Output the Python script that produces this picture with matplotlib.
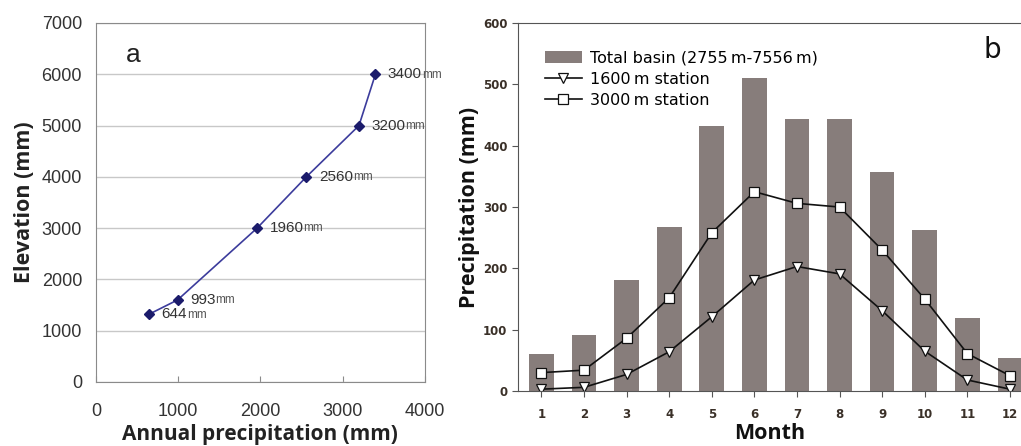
import numpy as np
import matplotlib.pyplot as plt
from matplotlib.ticker import MultipleLocator

# panel a: elevation vs annual precipitation
precip_a = [644, 993, 1960, 2560, 3200, 3400]
elev_a = [1320, 1600, 3000, 4000, 5000, 6000]
labels_a = ['644', '993', '1960', '2560', '3200', '3400']

# panel b: monthly precipitation
months = list(range(1, 13))
basin = [60, 92, 181, 267, 432, 510, 443, 443, 357, 262, 119, 54]
st3000 = [30, 34, 86, 152, 258, 325, 306, 300, 230, 150, 61, 25]
st1600 = [3, 6, 27, 64, 121, 181, 203, 191, 131, 65, 18, 3]

fig = plt.figure(figsize=(10.21, 4.46), dpi=100)

# ---- panel a ----
ax1 = fig.add_axes([0.094, 0.1435, 0.322, 0.805])
ax1.set_xlim(0, 4000)
ax1.set_ylim(0, 7000)
ax1.yaxis.set_major_locator(MultipleLocator(1000))
ax1.xaxis.set_major_locator(MultipleLocator(1000))
ax1.grid(axis='y', color='#c8c8c8', lw=1)
ax1.set_axisbelow(True)
for s in ax1.spines.values():
    s.set_color('#8a8a8a')
ax1.tick_params(axis='x', direction='in', length=4, color='#8a8a8a', pad=15)
ax1.tick_params(axis='y', length=0, pad=10)
for lab in ax1.get_xticklabels() + ax1.get_yticklabels():
    lab.set_fontfamily('Liberation Sans')
    lab.set_fontsize(13)
    lab.set_color('#333333')

ax1.plot(precip_a, elev_a, color='#3c3c9c', lw=1.2, marker='D', ms=5,
         mfc='#1b1b6b', mec='#1b1b6b')
for x, y, lab in zip(precip_a, elev_a, labels_a):
    t = ax1.annotate(lab, (x, y), xytext=(9, 0), textcoords='offset points',
                     va='center', ha='left', fontsize=11,
                     family='Liberation Sans', color='#333333')
    ax1.annotate('mm', xy=(1, 0.05), xycoords=t, va='bottom', ha='left',
                 fontsize=8.5, family='Liberation Sans', color='#555555')

ax1.text(0.09, 0.91, 'a', transform=ax1.transAxes, fontsize=19,
         family='Liberation Sans', color='#222222', va='center')
ax1.set_xlabel('Annual precipitation (mm)', family='Open Sans',
               fontweight='bold', fontsize=15, color='#222222', labelpad=3)
ax1.set_ylabel('Elevation (mm)', family='Open Sans',
               fontweight='bold', fontsize=15.5, color='#222222', labelpad=5)

# ---- panel b ----
ax2 = fig.add_axes([0.5073, 0.1233, 0.4927, 0.825])
ax2.set_xlim(0.45, 12.26)
ax2.set_ylim(0, 600)
ax2.bar(months, basin, width=0.58, color='#877d7b',
        label='Total basin (2755\u2009m-7556\u2009m)')
ax2.plot(months, st1600, color='#111111', lw=1.2, marker='v', ms=7,
         mfc='white', mec='#111111', mew=0.9, label='1600\u2009m station')
ax2.plot(months, st3000, color='#111111', lw=1.2, marker='s', ms=7,
         mfc='white', mec='#111111', mew=0.9, label='3000\u2009m station')
ax2.set_xticks(months)
ax2.yaxis.set_major_locator(MultipleLocator(100))
ax2.spines['right'].set_visible(False)
for s in ax2.spines.values():
    s.set_color('#555555')
ax2.tick_params(length=4, color='#555555', labelsize=8.5, labelcolor='#3a3028')
for lab in ax2.get_xticklabels() + ax2.get_yticklabels():
    lab.set_fontweight('bold')
ax2.tick_params(axis='x', pad=8)

ax2.text(0.942, 0.927, 'b', transform=ax2.transAxes, fontsize=20,
         color='#111111', va='center', ha='center')
ax2.set_xlabel('Month', family='Open Sans', fontweight='bold', fontsize=15.5,
               color='#111111', labelpad=2)
ax2.set_ylabel('Precipitation (mm)', family='Open Sans', fontweight='bold',
               fontsize=15.5, color='#111111', labelpad=2)

h, l = ax2.get_legend_handles_labels()
order = [2, 0, 1]
ax2.legend([h[i] for i in order], [l[i] for i in order], loc='upper left',
           bbox_to_anchor=(0.054, 0.925), frameon=False, fontsize=11.5,
           handlelength=2.3, labelspacing=0.38, borderaxespad=0,
           borderpad=0, handletextpad=0.5)

fig.savefig('out.png', dpi=100)
